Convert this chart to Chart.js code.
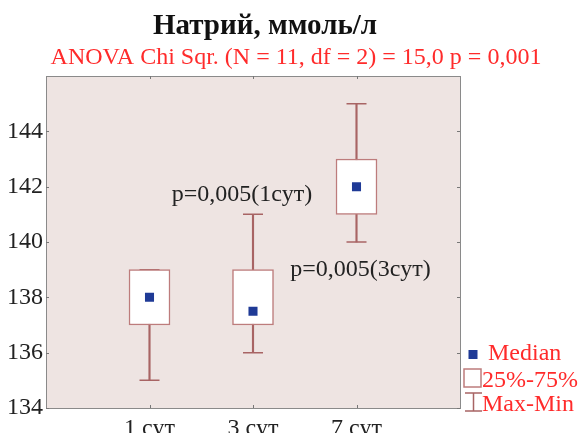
<!DOCTYPE html>
<html>
<head>
<meta charset="utf-8">
<script src="https://cdn.jsdelivr.net/npm/chart.js@4.4.0/dist/chart.umd.min.js"></script>
<style>
  html, body { margin: 0; padding: 0; background: #fff; }
  #wrap { width: 580px; height: 433px; position: relative; }
</style>
</head>
<body>
<div id="wrap"><canvas id="box-chart"></canvas></div>
<script>
// Натрий, ммоль/л — median / quartiles / range per day
const CATEGORIES = ['1 сут', '3 сут', '7 сут'];
const MIN_VALS    = [135, 136, 140];
const Q1_VALS     = [137, 137, 141];
const MEDIAN_VALS = [138, 137.5, 142];
const Q3_VALS     = [139, 139, 143];
const MAX_VALS    = [139, 141, 145];
const Y_TICKS     = [134, 136, 138, 140, 142, 144];

const TITLE    = 'Натрий, ммоль/л';
const SUBTITLE = 'ANOVA Chi Sqr. (N = 11, df = 2) = 15,0 p = 0,001';
const NOTES = [
  { text: 'p=0,005(1сут)', cat: 1, val: 141.7, dx: -11 },
  { text: 'p=0,005(3сут)', cat: 2, val: 139,   dx: 4 },
];

const SERIF    = "'Liberation Serif', 'Times New Roman', serif";
const BOX_CLR  = '#bd7c7c';
const WSK_CLR  = '#a86464';
const MED_CLR  = '#1f3a96';
const RED      = '#ff2b2b';

// empty slots at both ends so the three days sit at 1/4, 2/4, 3/4 of the width
const pad    = arr => [null, ...arr, null];
const labels = pad(CATEGORIES).map(l => l || '');

const plotBg = {
  id: 'plotBg',
  beforeDraw(chart) {
    const { ctx, chartArea: a } = chart;
    ctx.save();
    ctx.fillStyle = '#eee4e2';
    ctx.fillRect(a.left, a.top, a.right - a.left, a.bottom - a.top);
    ctx.restore();
  },
};

const extras = {
  id: 'extras',
  afterDraw(chart) {
    const { ctx, chartArea: a, scales } = chart;
    const x = scales.x, y = scales.y;
    ctx.save();

    // headings (title sits a bit left of the subtitle in the original)
    ctx.textAlign = 'center';
    ctx.textBaseline = 'alphabetic';
    ctx.fillStyle = '#111';
    ctx.font = `bold 29px ${SERIF}`;
    ctx.fillText(TITLE, a.left + 219, a.top - 42);
    ctx.fillStyle = RED;
    ctx.font = `24px ${SERIF}`;
    ctx.fillText(SUBTITLE, a.left + 250, a.top - 12);

    // small inward tick marks on all four sides
    ctx.strokeStyle = '#777';
    ctx.lineWidth = 1;
    ctx.beginPath();
    Y_TICKS.forEach(v => {
      const py = Math.round(y.getPixelForValue(v)) + 0.5;
      ctx.moveTo(a.left, py);  ctx.lineTo(a.left + 3, py);
      ctx.moveTo(a.right, py); ctx.lineTo(a.right - 3, py);
    });
    CATEGORIES.forEach((_, i) => {
      const px = Math.round(x.getPixelForValue(i + 1)) + 0.5;
      ctx.moveTo(px, a.top);    ctx.lineTo(px, a.top + 3);
      ctx.moveTo(px, a.bottom); ctx.lineTo(px, a.bottom - 3);
    });
    ctx.stroke();

    // p-value notes
    ctx.fillStyle = '#222';
    ctx.font = `24px ${SERIF}`;
    ctx.textAlign = 'center';
    ctx.textBaseline = 'middle';
    NOTES.forEach(n => {
      ctx.fillText(n.text, x.getPixelForValue(n.cat + 1) + n.dx, y.getPixelForValue(n.val));
    });

    // legend
    const lx = a.right + 5, by = a.bottom;
    ctx.font = `24px ${SERIF}`;
    ctx.textAlign = 'left';
    ctx.textBaseline = 'alphabetic';
    ctx.fillStyle = MED_CLR;
    ctx.fillRect(lx + 3.5, by - 58, 9, 9);
    ctx.fillStyle = RED;
    ctx.fillText('Median', lx + 23, by - 48);

    ctx.fillStyle = '#fff';
    ctx.strokeStyle = BOX_CLR;
    ctx.lineWidth = 1.5;
    ctx.fillRect(lx - 1, by - 39, 17, 18);
    ctx.strokeRect(lx - 1, by - 39, 17, 18);
    ctx.fillStyle = RED;
    ctx.fillText('25%-75%', lx + 17, by - 21);

    ctx.strokeStyle = WSK_CLR;
    ctx.beginPath();
    ctx.moveTo(lx, by - 15);       ctx.lineTo(lx + 17, by - 15);
    ctx.moveTo(lx + 8.5, by - 15); ctx.lineTo(lx + 8.5, by + 3);
    ctx.moveTo(lx, by + 3);        ctx.lineTo(lx + 17, by + 3);
    ctx.stroke();
    ctx.fillText('Max-Min', lx + 17, by + 3);

    ctx.restore();
  },
};

const borderOpt = { display: true, color: '#8a8a8a', width: 1 };

new Chart(document.getElementById('box-chart'), {
  type: 'bar',
  data: {
    labels,
    datasets: [
      { label: 'stem', data: pad(MIN_VALS.map((v, i) => [v, MAX_VALS[i]])),
        backgroundColor: WSK_CLR, barThickness: 1.5, grouped: false, order: 4 },
      { label: '25%-75%', data: pad(Q1_VALS.map((v, i) => [v, Q3_VALS[i]])),
        backgroundColor: '#fff', borderColor: BOX_CLR, borderWidth: 1.5, borderSkipped: false,
        barThickness: 41, grouped: false, order: 3 },
      { label: 'min', type: 'line', data: pad(MIN_VALS), showLine: false,
        pointStyle: 'line', pointRadius: 10, pointBorderWidth: 1.5, pointBorderColor: WSK_CLR, order: 5 },
      { label: 'max', type: 'line', data: pad(MAX_VALS), showLine: false,
        pointStyle: 'line', pointRadius: 10, pointBorderWidth: 1.5, pointBorderColor: WSK_CLR, order: 5 },
      { label: 'Median', type: 'line', data: pad(MEDIAN_VALS), showLine: false,
        pointStyle: 'rect', pointRadius: 6.4, pointBorderWidth: 0,
        pointBackgroundColor: MED_CLR, order: 1 },
    ],
  },
  options: {
    responsive: true, maintainAspectRatio: false, animation: false,
    events: [],
    layout: { padding: { top: 71 } },
    plugins: {
      legend: { display: false },
      tooltip: { enabled: false },
    },
    scales: {
      x: {
        offset: false,
        grid: { display: false, offset: false, drawTicks: false },
        border: borderOpt,
        ticks: { color: '#222', font: { family: SERIF, size: 24 }, padding: 6, maxRotation: 0, autoSkip: false },
        afterFit: s => { s.height = 25; },
      },
      x2: {
        type: 'category', position: 'top', labels,
        grid: { display: false, drawTicks: false }, border: borderOpt, ticks: { display: false },
        afterFit: s => { s.height = 5; },
      },
      y: {
        min: 134, max: 146,
        grid: { display: false, drawTicks: false },
        border: borderOpt,
        afterBuildTicks: s => { s.ticks = Y_TICKS.map(v => ({ value: v })); },
        ticks: { color: '#222', font: { family: SERIF, size: 24 }, padding: 3 },
        afterFit: s => { s.width = 46; },
      },
      y2: {
        type: 'linear', position: 'right', min: 134, max: 146,
        grid: { display: false, drawTicks: false }, border: borderOpt, ticks: { display: false },
        afterFit: s => { s.width = 120; },
      },
    },
  },
  plugins: [plotBg, extras],
});
</script>
</body>
</html>
